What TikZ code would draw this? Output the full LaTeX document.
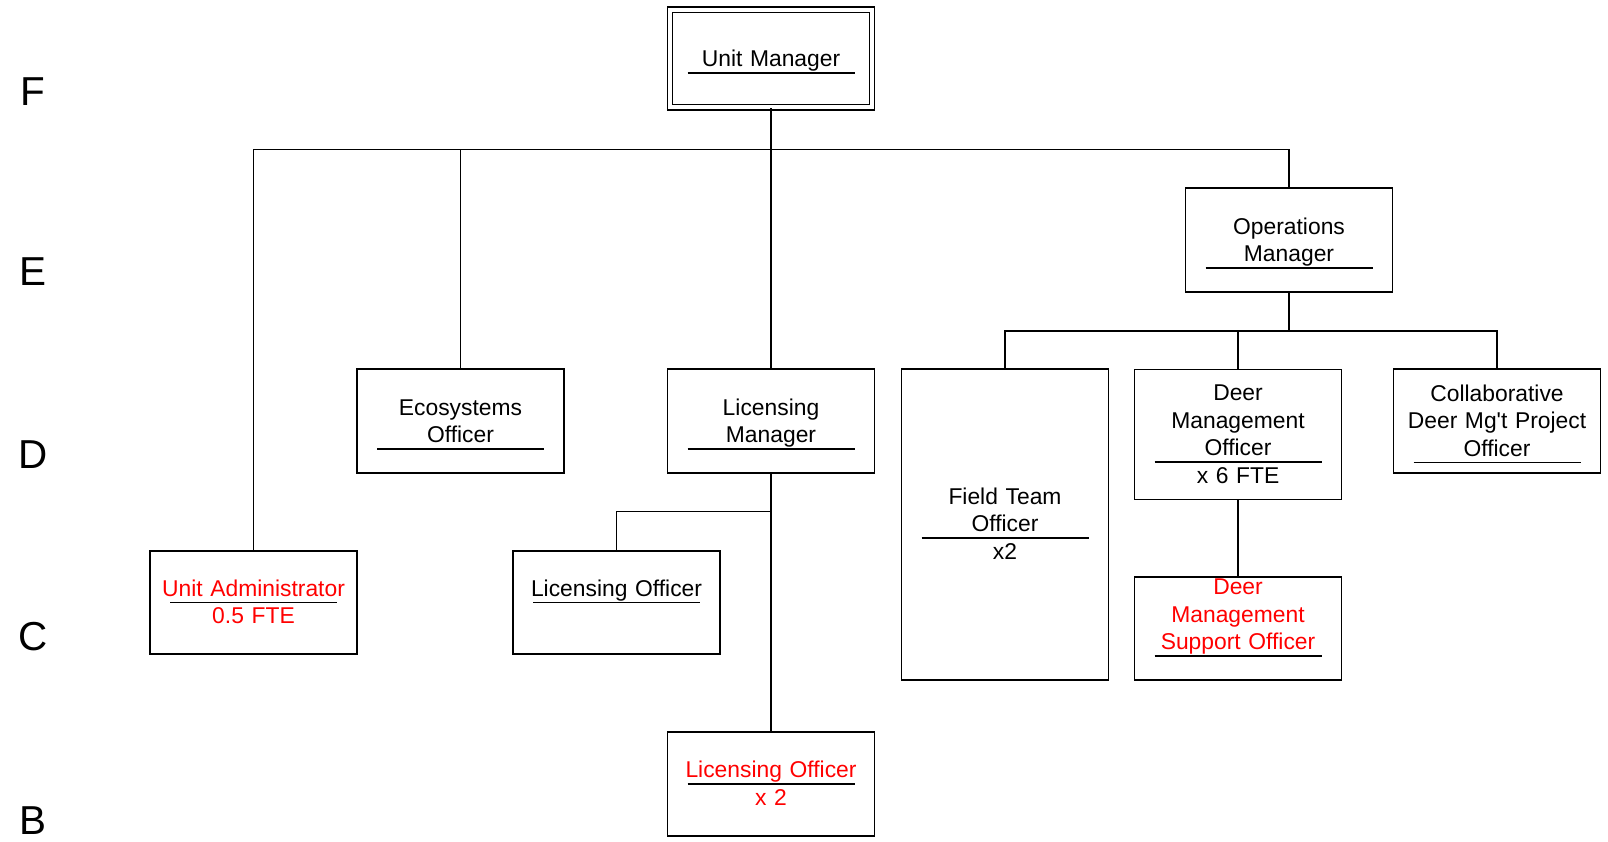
\documentclass[tikz,border=0pt]{standalone}
\usepackage{fontspec}
\setmainfont{Liberation Sans}
\usepackage{tikz}
\definecolor{vacantred}{RGB}{255, 0, 0}

\newcommand{\posttitle}[1]{\rule{0pt}{13pt}#1\par\vskip-\prevdepth\vskip3.2pt\nointerlineskip
  \hbox to\linewidth{\hss\textcolor{black}{\rule{3.34cm}{0.9pt}}\hss}}
\newcommand{\postsub}[2]{\posttitle{#1}\nointerlineskip\vskip0.7pt\strut#2}

\begin{document}
\begin{tikzpicture}
    \tikzstyle{post} = [draw, line width=0.9pt, minimum width=4.14cm, minimum height=2.07cm, inner sep=0pt, text width=4cm, align=center, font=\fontsize{13}{15.6}\selectfont]
    \tikzstyle{vacant} = [post, text=vacantred]
    \tikzstyle{link} = [draw, line width=0.9pt]
    \tikzstyle{grade} = [font=\fontsize{23}{26}\selectfont]

    \useasboundingbox (0,0) rectangle (32.16,-16.82);

    % grade letters down the left side
    \node[grade] (gF) at (0.66,-1.84) {F};
    \node[grade] (gE) at (0.66,-5.44) {E};
    \node[grade] (gD) at (0.66,-9.09) {D};
    \node[grade] (gC) at (0.66,-12.74) {C};
    \node[grade] (gB) at (0.66,-16.41) {B};

    \node[post, double, double distance=2pt, minimum width=4.04cm, minimum height=1.95cm] (um) at (15.42,-1.17) {\posttitle{Unit Manager}};
    \node[post] (om) at (25.78,-4.80) {\posttitle{Operations\\Manager}};

    \node[post] (eco) at (9.21,-8.42) {\posttitle{Ecosystems\\Officer}};
    \node[post] (lm) at (15.42,-8.42) {\posttitle{Licensing\\Manager}};
    \node[post, minimum height=6.22cm] (ft) at (20.10,-10.49) {\postsub{Field Team\\Officer}{x2}};
    \node[post, minimum height=2.60cm] (dmo) at (24.76,-8.69) {\postsub{Deer\\Management\\Officer}{x 6 FTE}};
    \node[post] (collab) at (29.94,-8.42) {\posttitle{Collaborative\\Deer Mg\textquotesingle t Project\\Officer}};

    \node[vacant] (ua) at (5.07,-12.05) {\postsub{Unit Administrator}{0.5 FTE}};
    \node[post] (lo) at (12.33,-12.05) {\postsub{Licensing Officer}{}};
    \node[vacant, inner ysep=-3pt] (dmso) at (24.76,-12.57) {\postsub{Deer\\Management\\Support Officer}{}};
    \node[vacant] (lo2) at (15.42,-15.68) {\postsub{Licensing Officer}{x 2}};

    \coordinate (fbus) at (15.42,-2.99);
    \coordinate (obus) at (25.78,-6.62);
    \coordinate (lbus) at (15.42,-10.23);

    \draw[link] (um.south) -- (lm.north);
    \draw[link] (fbus) -| (ua.north);
    \draw[link] (fbus) -| (eco.north);
    \draw[link] (fbus) -| (om.north);

    \draw[link] (om.south) -- (obus);
    \draw[link] (obus) -| (ft.north);
    \draw[link] (obus) -| (dmo.north);
    \draw[link] (obus) -| (collab.north);

    \draw[link] (lm.south) -- (lo2.north);
    \draw[link] (lbus) -| (lo.north);
    \draw[link] (dmo.south) -- (dmso.north);
\end{tikzpicture}
\end{document}
